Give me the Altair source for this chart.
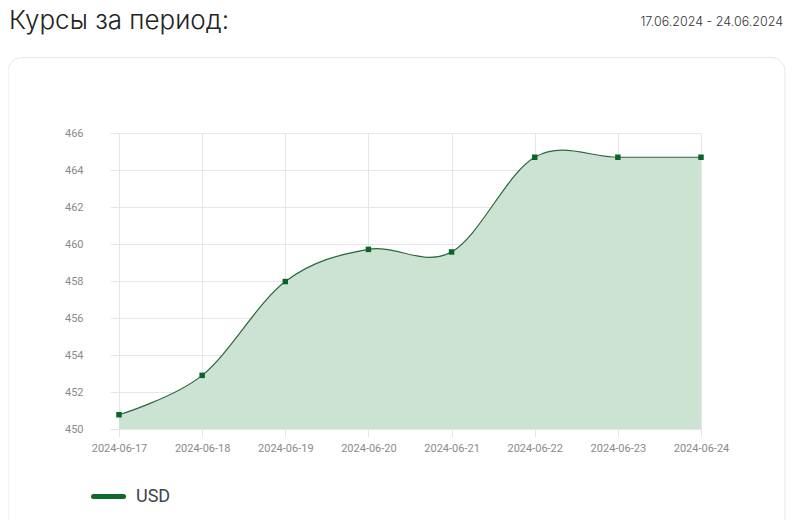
import altair as alt
import pandas as pd

dates = ["2024-06-17", "2024-06-18", "2024-06-19", "2024-06-20",
         "2024-06-21", "2024-06-22", "2024-06-23", "2024-06-24"]
usd = [450.77, 452.90, 457.97, 459.71, 459.57, 464.69, 464.69, 464.69]
series_name = "USD"
y_ticks = [450, 452, 454, 456, 458, 460, 462, 464, 466]
title_text = "Курсы за период:"
period_text = "17.06.2024 - 24.06.2024"

df = pd.DataFrame({"date": dates, "value": usd})
one = pd.DataFrame({"k": [0]})

W, H = 582, 296
PL, PT = 111, 125

x_enc = alt.X("date:O", scale=alt.Scale(type="point", padding=0),
              axis=alt.Axis(title=None, labelAngle=0, tickSize=8, labelPadding=5,
                            grid=True, labelFlush=False, labelOverlap=False))
y_enc = alt.Y("value:Q", scale=alt.Scale(domain=[450, 466], zero=False, nice=False),
              axis=alt.Axis(title=None, values=y_ticks, tickSize=9, labelPadding=27,
                            grid=True, format="d", labelOverlap=False))

card = alt.Chart(one).mark_rect(
    fill="transparent", stroke="#e8e8e8", strokeWidth=1, cornerRadius=14
).encode(x=alt.value(-111), x2=alt.value(666), y=alt.value(-75.5), y2=alt.value(420))

area = alt.Chart(df).mark_area(
    interpolate="cardinal", color="#cce3d3", opacity=1
).encode(x=x_enc, y=y_enc, y2=alt.datum(450))

line = alt.Chart(df).mark_line(
    interpolate="cardinal", color="#2b673a", strokeWidth=1.2
).encode(x=x_enc, y=y_enc)

pts = alt.Chart(df).mark_point(
    shape="square", filled=True, size=30, color="#0b6429", opacity=1
).encode(x=x_enc, y=y_enc)

title = alt.Chart(one).mark_text(
    text=title_text, align="left", baseline="alphabetic", fontSize=26,
    font="Inter", fontWeight=300, color="#222222"
).encode(x=alt.value(-110), y=alt.value(-104))

period = alt.Chart(one).mark_text(
    text=period_text, align="right", baseline="alphabetic", fontSize=12.5,
    font="Inter", fontWeight=300, color="#333333"
).encode(x=alt.value(664), y=alt.value(-107.5))

leg_line = alt.Chart(one).mark_rule(
    color="#0d6b2b", strokeWidth=5, strokeCap="round"
).encode(x=alt.value(-25.5), x2=alt.value(4.5), y=alt.value(363.5))

leg_text = alt.Chart(one).mark_text(
    text=series_name, align="left", baseline="middle", fontSize=18,
    font="Roboto", color="#3d4451"
).encode(x=alt.value(17), y=alt.value(364))

chart = alt.layer(card, area, line, pts, title, period, leg_line, leg_text).properties(
    width=W, height=H,
    padding={"left": PL, "top": PT, "right": 784 - PL - W, "bottom": 512 - PT - H},
    autosize="none",
).configure_view(stroke=None).configure_axis(
    domain=False, gridColor="#e6e6e6", tickColor="#e6e6e6", gridWidth=1,
    labelColor="#8a8a8a", labelFont="Roboto", labelFontSize=11,
)

chart.save("out.html", embed_options={"renderer": "svg", "actions": False})
